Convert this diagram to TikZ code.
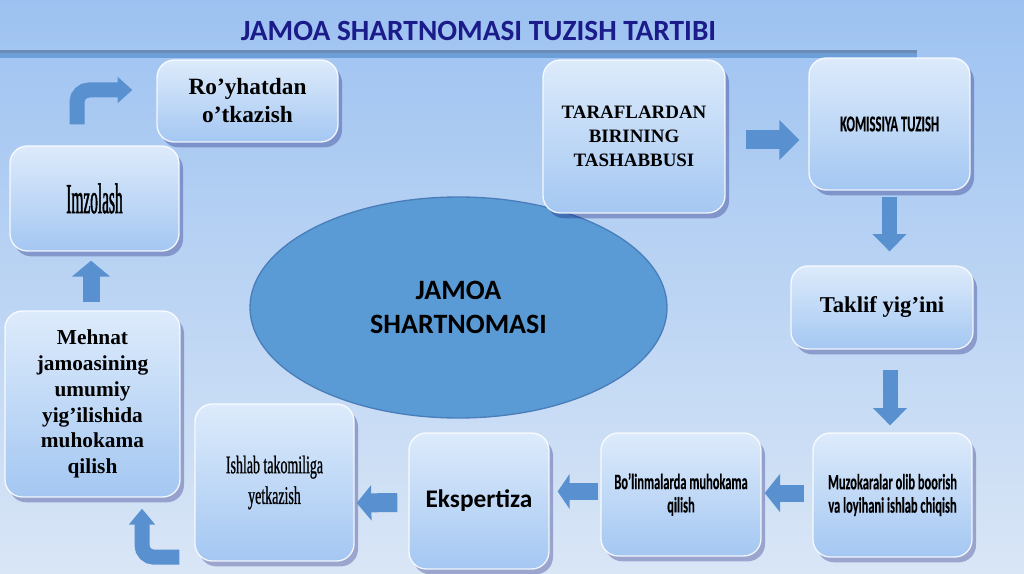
\documentclass[tikz,border=0pt]{standalone}
\usepackage{fontspec}
\usepackage{graphicx}
\usetikzlibrary{shapes.geometric,shadows,arrows.meta,calc}
\newfontfamily\calfont{Carlito}
\newfontfamily\calnarrow[FakeStretch=0.565,FakeBold=0.4]{Carlito}
\newfontfamily\calxnarrow[FakeStretch=0.56,FakeBold=0.4]{Carlito}
\newfontfamily\tnrfont{Liberation Serif}
\newfontfamily\tnrnarrow[FakeStretch=0.55,FakeBold=1.0]{Liberation Serif}
\newfontfamily\tnrxnarrow[FakeStretch=0.36,FakeBold=1.2]{Liberation Serif}
\definecolor{bgtop}{HTML}{9DC2F1}
\definecolor{bgbot}{HTML}{D9E6F6}
\definecolor{boxtop}{HTML}{DDEBFB}
\definecolor{boxbot}{HTML}{A4C7F2}
\definecolor{titlec}{HTML}{1B1B8A}
\definecolor{arrowc}{HTML}{5890D0}
\definecolor{ellfill}{HTML}{5B9BD5}
\definecolor{elldraw}{HTML}{4A7EBB}
\definecolor{linedark}{HTML}{6A8CB6}
\definecolor{linelight}{HTML}{6C9FDA}
\tikzset{
  sz/.style 2 args={minimum width=#1*0.75pt, minimum height=#2*0.75pt},
  box/.style={rectangle, rounded corners=13pt, inner sep=0pt,
    top color=boxtop, bottom color=boxbot, draw=white, draw opacity=0.85,
    line width=1pt, align=center, text=black,
    drop shadow={shadow xshift=3pt, shadow yshift=-4pt, opacity=0.28, fill=black!60!blue}},
  blk/.style={draw=arrowc, line width=#1*0.75pt},
}
\begin{document}
\begin{tikzpicture}[x=0.75pt,y=-0.75pt]
\useasboundingbox (0,0) rectangle (1024,574);
% background
\shade[top color=bgtop, bottom color=bgbot] (0,0) rectangle (1024,574);
% title line
\fill[linedark] (0,50) rectangle (917,53.5);
\fill[linelight] (0,53.5) rectangle (917,58);
% title
\node[anchor=base, text=titlec, font=\calfont\bfseries\fontsize{22}{26}\selectfont, inner sep=0pt] (title) at (478.5,41) {JAMOA SHARTNOMASI TUZISH TARTIBI};

% central ellipse
\node[ellipse, sz={417}{221}, fill=ellfill, draw=elldraw, line width=1pt, align=center,
  font=\calfont\bfseries\fontsize{21}{25.5}\selectfont] (ell) at (458.5,307.5) {JAMOA\\SHARTNOMASI};

% boxes
\node[box, sz={181}{82}, font=\tnrfont\bfseries\fontsize{17.5}{21}\selectfont] (royh) at (247.5,101) {Ro’yhatdan\\o’tkazish};
\node[box, sz={169}{105}, font=\tnrxnarrow\fontsize{32}{36}\selectfont] (imz) at (94.5,198.5) {Imzolash};
\node[box, sz={182}{153}, font=\tnrfont\bfseries\fontsize{14.2}{18}\selectfont] (taraf) at (634,136.5) {TARAFLARDAN\\BIRINING\\TASHABBUSI};
\node[box, sz={161}{132}, font=\calxnarrow\bfseries\fontsize{17}{18}\selectfont] (komis) at (889.5,124) {KOMISSIYA TUZISH};
\node[box, sz={182}{83}, font=\tnrfont\bfseries\fontsize{17}{20}\selectfont] (taklif) at (882,307.5) {Taklif yig’ini};
\node[box, sz={159}{124}, font=\calnarrow\bfseries\fontsize{16.5}{17.5}\selectfont] (muzok) at (892.5,495) {Muzokaralar olib boorish\\va loyihani ishlab chiqish};
\node[box, sz={160}{123}, font=\calnarrow\bfseries\fontsize{16.5}{17.5}\selectfont] (bolin) at (681,494.5) {Bo’linmalarda muhokama\\qilish};
\node[box, sz={140}{136}, font=\calfont\bfseries\fontsize{19}{22}\selectfont] (eksp) at (479,501) {Ekspertiza};
\node[box, sz={159}{157}, font=\tnrnarrow\fontsize{19}{23}\selectfont] (ishlab) at (274.5,482.5) {Ishlab takomiliga\\yetkazish};
\node[box, sz={175}{186}, font=\tnrfont\bfseries\fontsize{16}{19.4}\selectfont] (mehnat) at (92.5,404) {Mehnat\\jamoasining\\umumiy\\yig’ilishida\\muhokama\\qilish};

% block arrows
\draw[blk=19, -{Triangle[width=29pt,length=15pt]}, arrowc]
  ($(taraf.east)+(20,3.5)$) -- ($(komis.west)+(-9,16)$);
\draw[blk=15, -{Triangle[width=25pt,length=13pt]}, arrowc]
  ($(komis.south)+(0,6)$) -- ($(taklif.north)+(7.5,-14)$);
\draw[blk=15, -{Triangle[width=25pt,length=13pt]}, arrowc]
  ($(taklif.south)+(8,20)$) -- ($(muzok.north)+(-2.5,-7)$);
\draw[blk=17, -{Triangle[width=28pt,length=11.5pt]}, arrowc]
  ($(muzok.west)+(-8,-2)$) -- ($(bolin.east)+(3,-1.5)$);
\draw[blk=17, -{Triangle[width=26pt,length=9pt]}, arrowc]
  ($(bolin.west)+(-2,-3)$) -- ($(eksp.east)+(8,-9.5)$);
\draw[blk=19, -{Triangle[width=26pt,length=11pt]}, arrowc]
  ($(eksp.west)+(-11,1.5)$) -- ($(ishlab.east)+(2,20.5)$);
\draw[blk=17, -{Triangle[width=28pt,length=12pt]}, arrowc]
  ($(mehnat.north)+(-1.5,-8)$) -- ($(imz.south)+(-3.5,9)$);
% bent arrows
\coordinate (b1s) at ($(imz.north)+(-17.5,-21)$);
\coordinate (b1e) at ($(royh.west)+(-24,-11)$);
\draw[blk=15, rounded corners=9pt, -{Triangle[width=19pt,length=11pt]}, arrowc]
  (b1s) |- (b1e);
\coordinate (b2s) at ($(ishlab.south west)+(-15,-4.5)$);
\coordinate (b2e) at ($(mehnat.south)+(49.5,11)$);
\draw[blk=15, rounded corners=9pt, -{Triangle[width=19pt,length=12pt]}, arrowc]
  (b2s) -| (b2e);
\end{tikzpicture}
\end{document}
